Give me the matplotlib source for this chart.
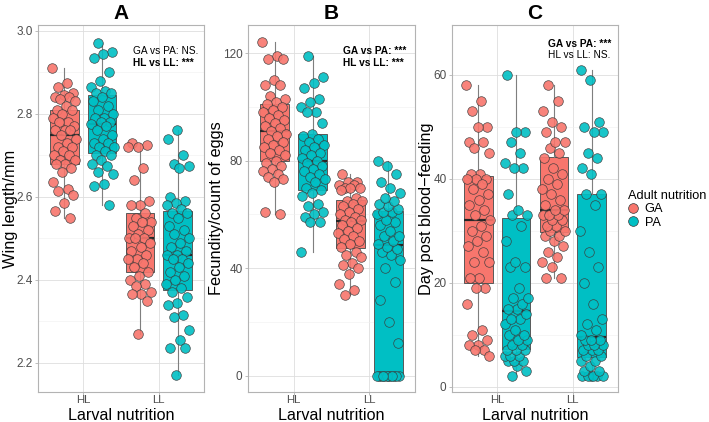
import numpy as np
import matplotlib
matplotlib.use("Agg")
import matplotlib.pyplot as plt
from matplotlib.lines import Line2D
from matplotlib.cbook import boxplot_stats

plt.rcParams['font.family'] = ['Liberation Sans', 'DejaVu Sans']

larval = ["HL", "LL"]
adult = ["GA", "PA"]
colors = {"GA": "#F8766D", "PA": "#00BFC4"}

# Panel A: wing length (mm)
wing_HL_GA = [2.91, 2.875, 2.865, 2.85, 2.845, 2.84, 2.84, 2.835, 2.83, 2.82, 2.81, 2.81, 2.80,
              2.79, 2.78, 2.78, 2.77, 2.76, 2.76, 2.76, 2.75, 2.74, 2.73, 2.72, 2.72, 2.71, 2.70,
              2.70, 2.69, 2.69, 2.68, 2.68, 2.67, 2.66, 2.635, 2.62, 2.615, 2.605, 2.585, 2.565, 2.55]
wing_HL_PA = [2.97, 2.95, 2.945, 2.935, 2.90, 2.88, 2.865, 2.855, 2.85, 2.85, 2.84, 2.83, 2.82,
              2.81, 2.80, 2.79, 2.79, 2.78, 2.78, 2.775, 2.77, 2.76, 2.75, 2.74, 2.73, 2.73, 2.72,
              2.72, 2.71, 2.70, 2.70, 2.69, 2.68, 2.675, 2.66, 2.655, 2.63, 2.625, 2.58]
wing_LL_GA = [2.73, 2.725, 2.72, 2.72, 2.67, 2.64, 2.59, 2.58, 2.58, 2.56, 2.55, 2.54, 2.54,
              2.53, 2.52, 2.51, 2.50, 2.50, 2.50, 2.49, 2.48, 2.47, 2.46, 2.45, 2.45, 2.44, 2.43,
              2.42, 2.41, 2.40, 2.39, 2.385, 2.37, 2.365, 2.365, 2.35, 2.27]
wing_LL_PA = [2.76, 2.74, 2.70, 2.68, 2.675, 2.67, 2.60, 2.59, 2.585, 2.58, 2.57, 2.56, 2.56,
              2.55, 2.53, 2.52, 2.51, 2.50, 2.49, 2.48, 2.47, 2.46, 2.46, 2.45, 2.45, 2.44, 2.43,
              2.42, 2.41, 2.40, 2.39, 2.38, 2.37, 2.36, 2.345, 2.34, 2.315, 2.31, 2.28, 2.255,
              2.235, 2.235, 2.17]

# Panel B: fecundity (count of eggs)
fec_HL_GA = [124, 119, 118, 118, 110, 108, 108, 104, 103, 102, 101, 100, 99, 98, 97, 96, 95, 94,
             93, 92, 91, 90, 89, 88, 87, 86, 85, 84, 83, 82, 80, 79, 78, 77, 76, 75, 74, 73, 72,
             61, 60]
fec_HL_PA = [119, 111, 109, 107, 103, 102, 100, 98, 98, 94, 90, 89, 88, 87, 86, 85, 84, 83, 82,
             81, 80, 79, 78, 77, 76, 75, 74, 73, 72, 70, 69, 68, 67, 64, 63, 61, 60, 59, 57, 57, 46]
fec_LL_GA = [75, 72, 72, 71, 71, 70, 70, 70, 69, 66, 65, 65, 64, 63, 62, 61, 60, 59, 58, 58, 57,
             56, 55, 54, 53, 52, 51, 50, 49, 48, 46, 45, 44, 42, 41, 40, 38, 34, 32, 30]
fec_LL_PA = [0, 0, 0, 0, 0, 0, 0, 0, 0, 0, 0, 0, 12, 20, 28, 35, 40, 43, 45, 46, 47, 48,
             49, 50, 52, 52, 54, 56, 57, 58, 60, 61, 61, 62, 63, 64, 65, 66, 68, 70, 72, 75, 78, 80]

# Panel C: day post blood-feeding
day_HL_GA = [58, 55, 53, 50, 50, 47, 47, 46, 45, 41, 41, 40, 40, 40, 39, 38, 37, 36, 35, 34, 33,
             32, 31, 30, 29, 28, 27, 26, 24, 24, 21, 21, 19, 19, 16, 11, 10, 9, 8, 8, 7, 7, 6]
day_HL_PA = [2, 3, 4, 5, 5, 5, 6, 6, 6, 7, 7, 7, 8, 8, 9, 9, 10, 10, 11, 12, 13, 13, 14,
             15, 15, 16, 17, 17, 19, 23, 23, 24, 28, 31, 33, 33, 34, 37, 42, 42, 43, 45, 47,
             49, 49, 60]
day_LL_GA = [21, 21, 23, 24, 25, 26, 27, 28, 29, 29, 30, 30, 31, 31, 32, 32, 33, 33, 33, 34,
             34, 35, 36, 37, 38, 39, 40, 41, 42, 44, 45, 46, 47, 47, 49, 50, 51, 53, 55, 58]
day_LL_PA = [2, 2, 2, 2, 2, 2, 3, 3, 4, 5, 5, 6, 6, 7, 7, 7, 8, 8, 8, 9, 9, 9,
             10, 11, 12, 13, 16, 20, 23, 26, 30, 35, 37, 37, 41, 42, 44, 45, 49, 49, 50, 51, 59, 61]

panels = [
    dict(title="A", ylabel="Wing length/mm",
         data={("HL", "GA"): wing_HL_GA, ("HL", "PA"): wing_HL_PA,
               ("LL", "GA"): wing_LL_GA, ("LL", "PA"): wing_LL_PA},
         ylim=(2.13, 3.014), major=[2.2, 2.4, 2.6, 2.8, 3.0], minor=[2.3, 2.5, 2.7, 2.9],
         fmt="{:.1f}", left=38, width=166, ylab_x=10,
         ann=[("GA vs PA: NS.", "normal", 133, 51), ("HL vs LL: ***", "bold", 133, 63)]),
    dict(title="B", ylabel="Fecundity/count of eggs",
         data={("HL", "GA"): fec_HL_GA, ("HL", "PA"): fec_HL_PA,
               ("LL", "GA"): fec_LL_GA, ("LL", "PA"): fec_LL_PA},
         ylim=(-6.1, 130.5), major=[0, 40, 80, 120], minor=[20, 60, 100],
         fmt="{:.0f}", left=248, width=167, ylab_x=216,
         ann=[("GA vs PA: ***", "bold", 343, 51), ("HL vs LL: ***", "bold", 343, 63)]),
    dict(title="C", ylabel="Day post blood\u2212feeding",
         data={("HL", "GA"): day_HL_GA, ("HL", "PA"): day_HL_PA,
               ("LL", "GA"): day_LL_GA, ("LL", "PA"): day_LL_PA},
         ylim=(-1.0, 69.6), major=[0, 20, 40, 60], minor=[10, 30, 50],
         fmt="{:.0f}", left=452, width=166, ylab_x=427,
         ann=[("GA vs PA: ***", "bold", 548, 44), ("HL vs LL: NS.", "normal", 548, 55)]),
]

W, H = 709, 422
fig = plt.figure(figsize=(W / 100, H / 100), dpi=100)

top_px, bot_px = 25, 392
offset = 0.25
box_w = 0.38
jit = 0.16

for p in panels:
    ax = fig.add_axes([p["left"] / W, 1 - bot_px / H, p["width"] / W, (bot_px - top_px) / H])

    for i, lv in enumerate(larval):
        for j, ad in enumerate(adult):
            vals = np.asarray(p["data"][(lv, ad)], dtype=float)
            pos = (i + 1) + (offset if j else -offset)
            st = boxplot_stats(vals, whis=1.5)
            ax.bxp(st, positions=[pos], widths=box_w, showfliers=False, patch_artist=True,
                   manage_ticks=False,
                   boxprops=dict(facecolor=colors[ad], edgecolor="#595959", lw=0.7),
                   whiskerprops=dict(color="#7F7F7F", lw=0.8),
                   capprops=dict(lw=0),
                   medianprops=dict(color="#262626", lw=1.6),
                   zorder=2)
            n = len(vals)
            xs = pos + ((np.arange(n) * 0.6180339887 + 0.31 * j + 0.17 * i) % 1 - 0.5) * 2 * jit
            ax.scatter(xs, vals, s=48, color=colors[ad], edgecolor="#3A3A3A", linewidth=0.5,
                       alpha=0.9, zorder=3)

    ax.set_xlim(0.4, 2.6)
    ax.set_ylim(*p["ylim"])
    ax.set_yticks(p["major"])
    ax.set_yticklabels([p["fmt"].format(v) for v in p["major"]])
    ax.set_yticks(p["minor"], minor=True)
    ax.set_xticks([1, 2])
    ax.set_xticklabels(larval)
    ax.grid(True, which="major", color="#DEDEDE", lw=0.6, zorder=0)
    ax.grid(True, which="minor", axis="y", color="#EFEFEF", lw=0.4, zorder=0)
    ax.set_axisbelow(True)
    for s in ax.spines.values():
        s.set_color("#B3B3B3")
        s.set_linewidth(0.8)
    ax.tick_params(axis="both", which="major", colors="#B3B3B3", labelcolor="#4D4D4D",
                   labelsize=8.5, length=2.5, width=0.6, pad=1.5)
    ax.tick_params(axis="x", which="major", labelsize=8.2, length=2, pad=0)
    ax.tick_params(axis="y", which="minor", length=0)
    ax.set_xlabel("Larval nutrition", fontsize=11.6)
    ax.xaxis.set_label_coords(0.5, -(420 - bot_px) / (bot_px - top_px))
    ax.xaxis.label.set_va("baseline")
    ax.set_ylabel(p["ylabel"], fontsize=11.8)
    ax.yaxis.set_label_coords((p["ylab_x"] - p["left"]) / p["width"], 0.5)
    ax.yaxis.label.set_va("center")
    ax.set_title(p["title"], fontsize=15, fontweight="bold", pad=4)

    for txt, wt, xp, yp in p["ann"]:
        fig.text(xp / W, 1 - yp / H, txt, fontsize=7.3, fontweight=wt, ha="left", va="center")

handles = [Line2D([], [], ls="none", marker="o", markersize=7, markerfacecolor=colors[a],
                  markeredgecolor="#3A3A3A", markeredgewidth=0.5) for a in adult]
leg = fig.legend(handles, adult, title="Adult nutrition", loc="upper left",
                 bbox_to_anchor=(619 / W, 1 - 181 / H), frameon=False, fontsize=9.2,
                 title_fontsize=9.2, handlelength=0.8, handletextpad=0.5, labelspacing=0.1,
                 borderpad=0.2, alignment="left")

fig.savefig("out.png", dpi=100)
